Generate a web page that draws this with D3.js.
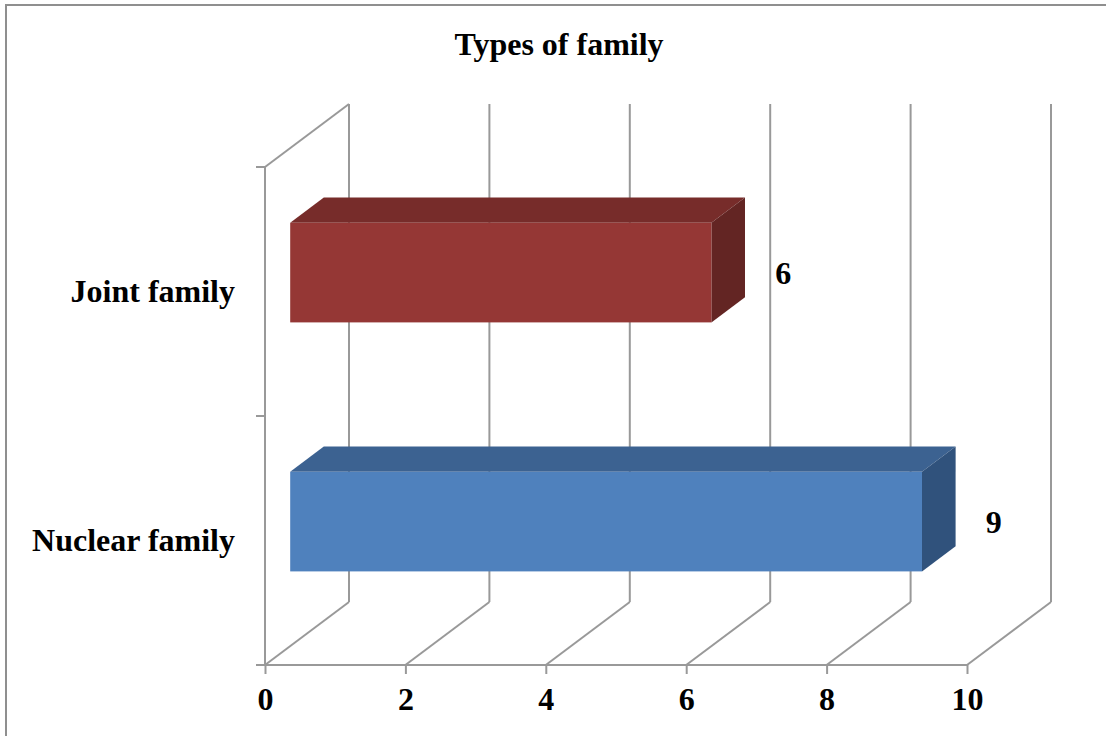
<!DOCTYPE html>
<html>
<head>
<meta charset="utf-8">
<script src="https://cdn.jsdelivr.net/npm/d3@7"></script>
<style>
  html, body { margin: 0; padding: 0; background: #fff; }
  svg text { font-family: "Liberation Serif", "Times New Roman", serif; font-weight: bold; fill: #000; }
</style>
</head>
<body>
<svg id="chart" width="1106" height="736"></svg>
<script>
// Chart data
const categories = ["Joint family", "Nuclear family"];
const values = [6, 9];
const xTicks = [0, 2, 4, 6, 8, 10];
const titleText = "Types of family";

// Face colours per series: front, top, side
const faceColors = [
  { front: "#953735", top: "#772C2A", side: "#632523" },
  { front: "#4F81BD", top: "#3C6291", side: "#30527C" }
];

const svg = d3.select("#chart");
const W = 1106, H = 736;
const fontSize = 32;

// Outer frame
svg.append("rect")
  .attr("x", 6).attr("y", 5).attr("width", W + 20).attr("height", H + 20)
  .attr("fill", "#fff").attr("stroke", "#8f8f8f").attr("stroke-width", 2);

// Front plane of the 3D box
const plotLeft = 265, plotRight = 967, plotTop = 167, plotBottom = 665;
// Depth offset of the back wall
const depth = { dx: 84, dy: -63 };

const x = d3.scaleLinear().domain([0, 10]).range([plotLeft, plotRight]);
const y = d3.scaleBand().domain(categories).range([plotTop, plotBottom])
  .paddingInner(0.6).paddingOuter(0.3);

const gridColor = "#999999";
const g = svg.append("g");

// Back wall verticals and floor diagonals
xTicks.forEach(t => {
  const fx = x(t);
  g.append("line")
    .attr("x1", fx + depth.dx).attr("y1", plotTop + depth.dy)
    .attr("x2", fx + depth.dx).attr("y2", plotBottom + depth.dy)
    .attr("stroke", gridColor).attr("stroke-width", 2);
  g.append("line")
    .attr("x1", fx).attr("y1", plotBottom)
    .attr("x2", fx + depth.dx).attr("y2", plotBottom + depth.dy)
    .attr("stroke", gridColor).attr("stroke-width", 2);
});

// Left wall: front edge and top diagonal
g.append("line")
  .attr("x1", plotLeft).attr("y1", plotTop).attr("x2", plotLeft).attr("y2", plotBottom)
  .attr("stroke", gridColor).attr("stroke-width", 2);
g.append("line")
  .attr("x1", plotLeft).attr("y1", plotTop)
  .attr("x2", plotLeft + depth.dx).attr("y2", plotTop + depth.dy)
  .attr("stroke", gridColor).attr("stroke-width", 2);

// Horizontal (value) axis
const xAxis = svg.append("g").attr("transform", `translate(0,${plotBottom})`)
  .call(d3.axisBottom(x).tickValues(xTicks).tickSize(9).tickPadding(13).tickFormat(d3.format("d")));
xAxis.select(".domain").attr("stroke", gridColor).attr("stroke-width", 2)
  .attr("d", `M${plotLeft},0H${plotRight}`);
xAxis.selectAll(".tick line").attr("stroke", gridColor).attr("stroke-width", 2);
xAxis.selectAll(".tick text")
  .attr("font-size", fontSize).attr("font-family", "Liberation Serif, Times New Roman, serif")
  .attr("font-weight", "bold").attr("fill", "#000").attr("dy", "0.71em");

// Category axis ticks at band boundaries
const yBounds = [plotTop, (plotTop + plotBottom) / 2, plotBottom];
yBounds.forEach(v => {
  g.append("line")
    .attr("x1", plotLeft - 9).attr("y1", v).attr("x2", plotLeft).attr("y2", v)
    .attr("stroke", gridColor).attr("stroke-width", 2);
});

// Category labels
const step = y.step();
categories.forEach((c, i) => {
  const center = plotTop + step * (i + 0.5);
  svg.append("text")
    .attr("x", 235).attr("y", center).attr("dy", "0.34em")
    .attr("text-anchor", "end").attr("font-size", fontSize)
    .text(c);
});

// 3D bars: front face sits 30% into the depth, bar is 40% deep
const f0 = 0.30, fd = 0.40;
const ox = depth.dx * f0, oy = depth.dy * f0;
const bx = depth.dx * fd, by = depth.dy * fd;

const bars = svg.append("g");
categories.forEach((c, i) => {
  const x0 = x(0) + ox, x1 = x(values[i]) + ox;
  const y0 = y(c) + oy, y1 = y(c) + y.bandwidth() + oy;
  const col = faceColors[i];
  // top face
  bars.append("path")
    .attr("d", `M${x0},${y0}L${x0 + bx},${y0 + by}L${x1 + bx},${y0 + by}L${x1},${y0}Z`)
    .attr("fill", col.top);
  // side face
  bars.append("path")
    .attr("d", `M${x1},${y0}L${x1 + bx},${y0 + by}L${x1 + bx},${y1 + by}L${x1},${y1}Z`)
    .attr("fill", col.side);
  // front face
  bars.append("rect")
    .attr("x", x0).attr("y", y0).attr("width", x1 - x0).attr("height", y1 - y0)
    .attr("fill", col.front);
  // value label
  svg.append("text")
    .attr("x", x(values[i]) + 97).attr("y", (y0 + y1) / 2).attr("dy", "0.35em")
    .attr("text-anchor", "middle").attr("font-size", fontSize)
    .text(values[i]);
});

// Title
svg.append("text")
  .attr("x", 559).attr("y", 55).attr("text-anchor", "middle")
  .attr("font-size", fontSize).text(titleText);
</script>
</body>
</html>
